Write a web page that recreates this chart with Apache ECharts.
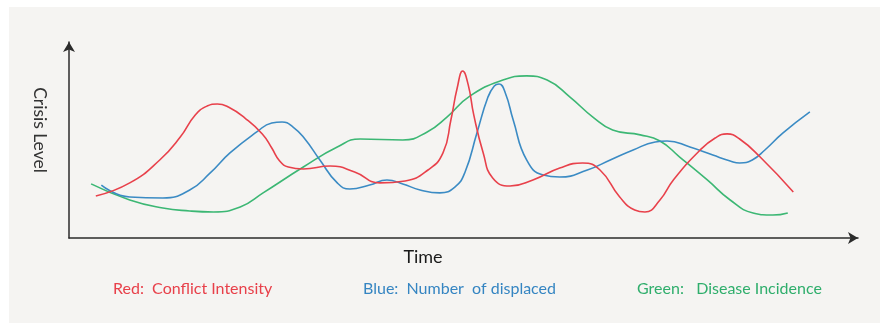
<!DOCTYPE html>
<html>
<head>
<meta charset="utf-8">
<script src="https://cdn.jsdelivr.net/npm/echarts@6/dist/echarts.min.js"></script>
<style>html,body{margin:0;padding:0;background:#fff;}#c{width:888px;height:326px;}</style>
</head>
<body>
<div id="c"></div>
<script>
// Time (0-100) and crisis level (0-100)
const redTime  = [3.4,7.7,11.5,14.1,16.0,17.5,18.8,20.2,22.3,24.5,25.7,26.7,27.8,29.7,33.1,36.2,39.4,42.6,45.5,47.4,48.4,49.2,49.9,50.6,51.3,52.5,53.7,55.9,58.8,62.2,65.1,67.3,69.8,71.7,73.0,74.9,76.6,80.0,81.9,83.4,85.0,87.6,91.8];
const redLevel = [21.4,28.1,39.8,51.5,62.8,67.3,68.4,66.8,61.2,53.1,45.9,39.3,36.2,35.2,36.7,33.7,28.1,29.1,34.7,43.4,60.2,76.5,85.2,78.1,62.8,43.4,30.6,26.5,29.6,35.7,38.3,34.7,20.9,14.3,13.3,19.4,29.6,44.9,51.0,53.1,50.5,41.3,23.5];

const blueTime  = [4.1,7.7,11.9,15.3,17.9,20.4,23.8,25.7,27.0,28.4,29.9,31.8,34.0,35.6,38.1,40.3,42.3,44.5,47.0,48.9,50.2,51.7,53.1,53.9,54.5,55.3,56.3,58.0,60.1,62.2,65.7,68.6,71.5,74.3,75.8,78.7,81.6,83.8,85.0,86.6,88.2,90.5,93.9];
const blueLevel = [27.0,20.9,20.4,24.5,33.2,43.4,54.1,58.7,59.2,56.6,50.5,39.8,28.1,25.0,27.0,29.6,27.6,24.5,23.0,26.0,33.7,53.6,71.9,77.6,78.6,74.0,60.2,39.8,32.1,31.1,34.7,39.8,44.9,49.0,49.5,46.4,42.3,39.3,38.3,39.8,44.9,53.6,64.3];

const greenTime  = [2.8,7.7,11.9,15.3,18.3,21.7,24.6,29.7,34.0,36.9,42.3,45.4,47.9,50.8,55.0,58.0,60.6,63.5,66.4,68.9,72.4,74.9,77.4,80.9,83.8,86.7,89.2,91.1];
const greenLevel = [27.6,19.4,15.3,13.8,13.3,15.8,23.0,36.2,46.4,50.5,50.0,54.1,61.7,72.4,80.6,82.7,80.6,71.9,61.7,55.1,52.6,49.5,41.3,29.6,19.4,12.8,11.7,12.8];

const legendTexts = ['Red:  Conflict Intensity', 'Blue:  Number  of displaced', 'Green:   Disease Incidence'];
const xTitle = 'Time';
const yTitle = 'Crisis Level';

const pair = (xs, ys) => xs.map((x, i) => [x, ys[i]]);
const FONT = 'Lato, "Open Sans", sans-serif';

const chart = echarts.init(document.getElementById('c'), null, {renderer: 'canvas'});
const lineSeries = (name, xs, ys, color) => ({
  name, type: 'line', data: pair(xs, ys), smooth: 0.5, showSymbol: false,
  lineStyle: {color, width: 1.6}, silent: true
});
chart.setOption({
  backgroundColor: '#ffffff',
  animation: false,
  grid: {left: 69, top: 42, width: 789, height: 196},
  xAxis: {
    type: 'value', min: 0, max: 100,
    axisLine: {show: true, onZero: false, symbol: ['none', 'arrow'], symbolSize: [9, 10], lineStyle: {color: '#2b2b2b', width: 1.5}},
    axisTick: {show: false}, axisLabel: {show: false}, splitLine: {show: false}
  },
  yAxis: {
    type: 'value', min: 0, max: 100,
    axisLine: {show: true, onZero: false, symbol: ['none', 'arrow'], symbolSize: [9, 10], lineStyle: {color: '#2b2b2b', width: 1.5}},
    axisTick: {show: false}, axisLabel: {show: false}, splitLine: {show: false}
  },
  graphic: [
    {type: 'rect', z: -10, silent: true, shape: {x: 9, y: 7, width: 871, height: 316}, style: {fill: '#f5f4f2'}},
    {type: 'text', x: 40, y: 130, rotation: -Math.PI / 2, silent: true,
     style: {text: yTitle, font: '17.5px ' + FONT, fill: '#333333', align: 'center', verticalAlign: 'middle'}},
    {type: 'text', x: 423, y: 257, silent: true,
     style: {text: xTitle, font: '18px ' + FONT, fill: '#1a1a1a', align: 'center', verticalAlign: 'middle'}},
    {type: 'text', x: 113, y: 289, silent: true,
     style: {text: legendTexts[0], font: '16px ' + FONT, fill: '#e8404a', align: 'left', verticalAlign: 'middle'}},
    {type: 'text', x: 363, y: 289, silent: true,
     style: {text: legendTexts[1], font: '16px ' + FONT, fill: '#3585c2', align: 'left', verticalAlign: 'middle'}},
    {type: 'text', x: 637, y: 289, silent: true,
     style: {text: legendTexts[2], font: '16px ' + FONT, fill: '#2fae6c', align: 'left', verticalAlign: 'middle'}}
  ],
  series: [
    lineSeries('Green', greenTime, greenLevel, '#3cb774'),
    lineSeries('Blue', blueTime, blueLevel, '#3b8bc4'),
    lineSeries('Red', redTime, redLevel, '#e8414b')
  ]
});
</script>
</body>
</html>
